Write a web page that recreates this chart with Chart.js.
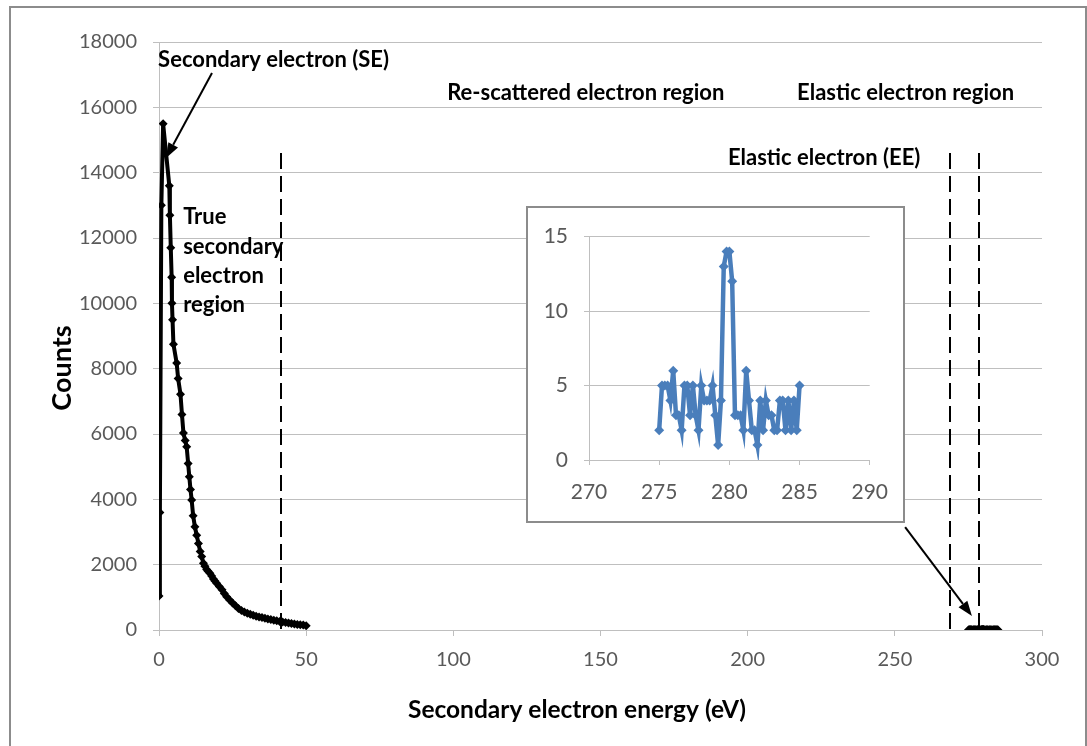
<!DOCTYPE html>
<html>
<head>
<meta charset="utf-8">
<script src="https://cdn.jsdelivr.net/npm/chart.js@4"></script>
<style>
  body { margin: 0; background: #fff; }
  #frame { position: absolute; left: 9px; top: 6px; width: 1074px; height: 760px; border: 2px solid #8c8c8c; }
  #main { position: absolute; left: 0; top: 0; }
  #insetBox { position: absolute; left: 526px; top: 206px; width: 375px; height: 313px; border: 2px solid #8c8c8c; background: #fff; }
  #inset { display: block; }
</style>
</head>
<body>
<div id="frame"></div>
<canvas id="main" width="1087" height="746"></canvas>
<div id="insetBox"><canvas id="inset" width="375" height="313"></canvas></div>
<script>
// Secondary electron peak (main chart), eV / counts
const seEnergy = [0, 0.3, 0.8, 1.4, 3.5, 3.7, 4.0, 4.3, 4.4, 4.6, 4.9, 6.0, 6.5, 7.3, 7.8,
  8.3, 8.9, 9.4, 9.9, 10.3, 10.7, 11.1, 11.6, 12.2, 12.8, 13.4, 14.0, 14.5, 15.1, 15.6,
  16.2, 16.7, 17.3, 17.9, 18.5, 19.0, 19.6, 20.5, 21.4, 22.2, 23.0, 24, 25, 26, 27, 28,
  29, 30, 31, 32, 33, 34, 35, 36, 37, 38, 39, 40, 41, 42, 43, 44, 45, 46, 47, 48, 49, 50];
const seCounts = [1040, 3600, 13000, 15500, 13600, 12700, 11700, 10800, 10000, 9500, 8750, 8170, 7700, 7220, 6600,
  6030, 5800, 5610, 5100, 4690, 4300, 3980, 3500, 3160, 2900, 2650, 2400, 2250, 2040, 1950,
  1850, 1800, 1740, 1650, 1560, 1500, 1430, 1330, 1230, 1120, 1020, 920, 830, 740, 660, 600,
  550, 510, 480, 450, 420, 400, 380, 360, 340, 320, 300, 280, 260, 245, 230, 215, 200, 185, 170, 160, 150, 130];

// Elastic electron peak (shown in main chart and in the inset)
const eeEnergy = [275.0, 275.2, 275.4, 275.6, 275.8, 276.0, 276.2, 276.4, 276.6, 276.8,
  277.0, 277.2, 277.4, 277.6, 277.8, 278.0, 278.2, 278.4, 278.6, 278.8,
  279.0, 279.2, 279.4, 279.6, 279.8, 280.0, 280.2, 280.4, 280.6, 280.8,
  281.0, 281.2, 281.4, 281.6, 281.8, 282.0, 282.2, 282.4, 282.6, 282.8,
  283.0, 283.2, 283.4, 283.6, 283.8, 284.0, 284.2, 284.4, 284.6, 284.8, 285.0];
const eeCounts = [2, 5, 5, 5, 4, 6, 3, 3, 2, 5,
  5, 3, 5, 3, 2, 5, 4, 4, 4, 5,
  3, 1, 4, 13, 14, 14, 12, 3, 3, 3,
  2, 6, 4, 2, 2, 1, 4, 2, 4, 3,
  3, 2, 2, 4, 4, 2, 4, 2, 4, 2, 5];

// Region boundaries (eV)
const dividers = [41.5, 268.8, 278.6];
const dividerTop = 14600;

const mainXTicks = { min: 0, max: 300, step: 50 };
const mainYTicks = { min: 0, max: 18000, step: 2000 };
const insetXTicks = { min: 270, max: 290, step: 5 };
const insetYTicks = { min: 0, max: 15, step: 5 };

// Annotation text, in data coordinates of the main chart
const labels = [
  { text: 'Secondary electron (SE)', x: -0.3, y: 17450 },
  { text: 'True', x: 8.2, y: 12640 },
  { text: 'secondary', x: 8.2, y: 11720 },
  { text: 'electron', x: 8.2, y: 10840 },
  { text: 'region', x: 8.2, y: 9950 },
  { text: 'Re-scattered electron region', x: 97.9, y: 16440 },
  { text: 'Elastic electron region', x: 216.8, y: 16440 },
  { text: 'Elastic electron (EE)', x: 193.3, y: 14450 },
];
const arrows = [
  { from: [18, 17050], to: [2.4, 14450] },
  { from: [253.5, 3150], to: [276.2, 430] },
];

const tickFont = { family: 'Lato', size: 20 };
const tickColor = '#595959';
const gridColor = '#bfbfbf';
const boldFont = 'bold 22px Lato';

function drawArrow(ctx, x1, y1, x2, y2) {
  const ang = Math.atan2(y2 - y1, x2 - x1);
  const len = 15, half = 5.5;
  const bx = x2 - len * Math.cos(ang), by = y2 - len * Math.sin(ang);
  ctx.beginPath();
  ctx.moveTo(x1, y1);
  ctx.lineTo(bx, by);
  ctx.stroke();
  ctx.beginPath();
  ctx.moveTo(x2, y2);
  ctx.lineTo(bx + half * Math.sin(ang), by - half * Math.cos(ang));
  ctx.lineTo(bx - half * Math.sin(ang), by + half * Math.cos(ang));
  ctx.closePath();
  ctx.fill();
}

const annotationPlugin = {
  id: 'annotations',
  beforeDatasetsDraw(chart) {
    const { ctx, scales: { x, y } } = chart;
    ctx.save();
    ctx.setLineDash([16, 7]);
    ctx.lineWidth = 2;
    ctx.strokeStyle = '#000';
    dividers.forEach(e => {
      const px = Math.round(x.getPixelForValue(e));
      ctx.beginPath();
      ctx.moveTo(px, y.getPixelForValue(dividerTop));
      ctx.lineTo(px, y.getPixelForValue(0));
      ctx.stroke();
    });
    ctx.restore();
  },
  afterDraw(chart) {
    const { ctx, scales: { x, y } } = chart;
    ctx.save();
    ctx.fillStyle = '#000';
    ctx.strokeStyle = '#000';
    ctx.font = boldFont;
    ctx.textBaseline = 'middle';
    ctx.textAlign = 'left';
    labels.forEach(l => ctx.fillText(l.text, x.getPixelForValue(l.x), y.getPixelForValue(l.y)));

    ctx.lineWidth = 2;
    arrows.forEach(a => drawArrow(ctx,
      x.getPixelForValue(a.from[0]), y.getPixelForValue(a.from[1]),
      x.getPixelForValue(a.to[0]), y.getPixelForValue(a.to[1])));

    // axis titles
    ctx.textAlign = 'center';
    ctx.font = 'bold 24.5px Lato';
    ctx.fillText('Secondary electron energy (eV)', 577, 710);
    ctx.font = 'bold 27px Lato';
    ctx.translate(62, 368);
    ctx.rotate(-Math.PI / 2);
    ctx.fillText('Counts', 0, 0);
    ctx.restore();
  }
};

const toPoints = (xs, ys) => xs.map((v, i) => ({ x: v, y: ys[i] }));

const blackSeries = {
  borderColor: '#000',
  backgroundColor: '#000',
  borderWidth: 4,
  pointStyle: 'rectRot',
  pointRadius: 4.5,
  pointBorderWidth: 0,
};

new Chart(document.getElementById('main'), {
  type: 'line',
  data: {
    datasets: [
      { data: toPoints(seEnergy, seCounts), ...blackSeries },
      { data: toPoints(eeEnergy, eeCounts), ...blackSeries },
    ],
  },
  options: {
    responsive: false,
    animation: false,
    layout: { padding: { left: 0, top: 42, right: 45, bottom: 0 } },
    plugins: { legend: { display: false }, tooltip: { enabled: false } },
    scales: {
      x: {
        type: 'linear',
        min: mainXTicks.min,
        max: mainXTicks.max,
        ticks: { stepSize: mainXTicks.step, font: tickFont, color: tickColor, padding: 12, maxRotation: 0 },
        grid: { drawOnChartArea: false, tickLength: 6, color: gridColor },
        border: { color: gridColor },
        afterFit: s => { s.height = 116; },
      },
      y: {
        min: mainYTicks.min,
        max: mainYTicks.max,
        ticks: { stepSize: mainYTicks.step, font: tickFont, color: tickColor, padding: 16, callback: v => String(v) },
        grid: { tickLength: 6, color: gridColor },
        border: { color: gridColor },
        afterFit: s => { s.width = 159; },
      },
    },
  },
  plugins: [annotationPlugin],
});

new Chart(document.getElementById('inset'), {
  type: 'line',
  data: {
    datasets: [
      {
        data: toPoints(eeEnergy, eeCounts),
        borderColor: '#4a7ebb',
        backgroundColor: '#4a7ebb',
        borderWidth: 4.5,
        pointStyle: 'rectRot',
        pointRadius: 5,
        pointBorderWidth: 0,
      },
    ],
  },
  options: {
    responsive: false,
    animation: false,
    layout: { padding: { left: 0, top: 25, right: 26, bottom: 0 } },
    plugins: { legend: { display: false }, tooltip: { enabled: false } },
    scales: {
      x: {
        type: 'linear',
        min: insetXTicks.min,
        max: insetXTicks.max,
        ticks: { stepSize: insetXTicks.step, font: { family: 'Lato', size: 21 }, color: tickColor, padding: 15, maxRotation: 0 },
        grid: { drawOnChartArea: false, tickLength: 5, color: gridColor },
        border: { color: gridColor },
        afterFit: s => { s.height = 61; },
      },
      y: {
        min: insetYTicks.min,
        max: insetYTicks.max,
        ticks: { stepSize: insetYTicks.step, font: { family: 'Lato', size: 21 }, color: tickColor, padding: 16 },
        grid: { tickLength: 5, color: gridColor },
        border: { color: gridColor },
        afterFit: s => { s.width = 61; },
      },
    },
  },
});
</script>
</body>
</html>
